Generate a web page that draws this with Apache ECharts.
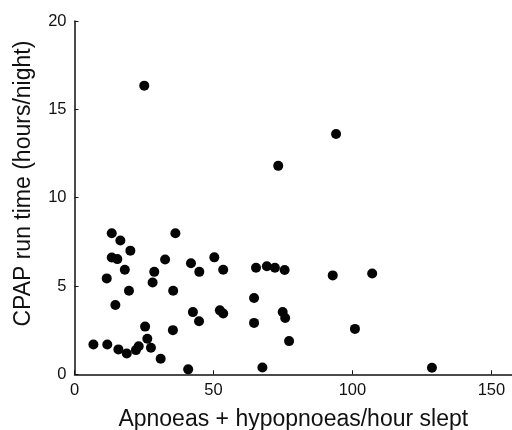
<!DOCTYPE html>
<html>
<head>
<meta charset="utf-8">
<script src="https://cdn.jsdelivr.net/npm/echarts@6/dist/echarts.min.js"></script>
<style>html,body{margin:0;padding:0;background:#fff;overflow:hidden}#c{width:512px;height:430px}</style>
</head>
<body>
<div id="c"></div>
<script>
const xValues = [6.8, 11.8, 13.4, 16.5, 20.1, 13.4, 15.4, 11.6, 18.1, 19.6, 14.7, 15.8, 18.8, 22.1, 23.1, 25.4, 26.2, 27.5, 31.0, 28.1, 28.7, 32.6, 36.3, 35.5, 35.4, 40.9, 41.9, 44.9, 42.6, 44.8, 25.1, 50.3, 53.5, 65.3, 69.2, 72.1, 75.6, 92.9, 64.6, 52.3, 53.5, 74.9, 75.8, 64.6, 77.2, 67.6, 94.1, 107.1, 100.9, 128.6, 73.3];
const yValues = [1.69, 1.69, 7.98, 7.57, 7.0, 6.61, 6.52, 5.43, 5.92, 4.73, 3.92, 1.41, 1.18, 1.37, 1.59, 2.70, 2.01, 1.50, 0.88, 5.2, 5.8, 6.5, 7.98, 4.73, 2.5, 0.28, 6.29, 5.8, 3.52, 3.0, 16.34, 6.62, 5.92, 6.03, 6.12, 6.03, 5.9, 5.6, 4.32, 3.62, 3.44, 3.53, 3.19, 2.91, 1.88, 0.38, 13.6, 5.71, 2.57, 0.37, 11.8];
const xTicks = [0, 50, 100, 150];
const yTicks = [0, 5, 10, 15, 20];
const xTitle = 'Apnoeas + hypopnoeas/hour slept';
const yTitle = 'CPAP run time (hours/night)';

const points = xValues.map((x, i) => [x, yValues[i]]);
const chart = echarts.init(document.getElementById('c'), null, {renderer: 'canvas'});
const font = 'Liberation Sans, Arial, Helvetica, sans-serif';
chart.setOption({
  animation: false,
  backgroundColor: '#fff',
  grid: {left: 74.5, right: 0, top: 21, bottom: 55.7, containLabel: false, outerBoundsMode: 'none'},
  xAxis: {
    type: 'value', min: 0, max: 157.4, interval: 50,
    name: xTitle, nameLocation: 'middle', nameGap: 34,
    nameTextStyle: {fontFamily: font, fontSize: 23, color: '#111'},
    axisLine: {lineStyle: {color: '#111', width: 1.5}},
    axisTick: {inside: true, length: 4, lineStyle: {color: '#111'}},
    axisLabel: {fontFamily: font, fontSize: 16.5, color: '#111', margin: 8,
      formatter: v => xTicks.includes(v) ? String(v) : ''},
    splitLine: {show: false}
  },
  yAxis: {
    type: 'value', min: 0, max: 20, interval: 5,
    name: yTitle, nameLocation: 'middle', nameGap: 39,
    nameTextStyle: {fontFamily: font, fontSize: 23, color: '#111', padding: [0, 0, 0, 28]},
    axisLine: {lineStyle: {color: '#111', width: 1.5}},
    axisTick: {inside: true, length: 4, lineStyle: {color: '#111'}},
    axisLabel: {fontFamily: font, fontSize: 16.5, color: '#111', margin: 8,
      formatter: v => yTicks.includes(v) ? String(v) : ''},
    splitLine: {show: false}
  },
  series: [{
    type: 'scatter', data: points, symbol: 'circle', symbolSize: 10,
    itemStyle: {color: '#050505', opacity: 1}
  }]
});
</script>
</body>
</html>
